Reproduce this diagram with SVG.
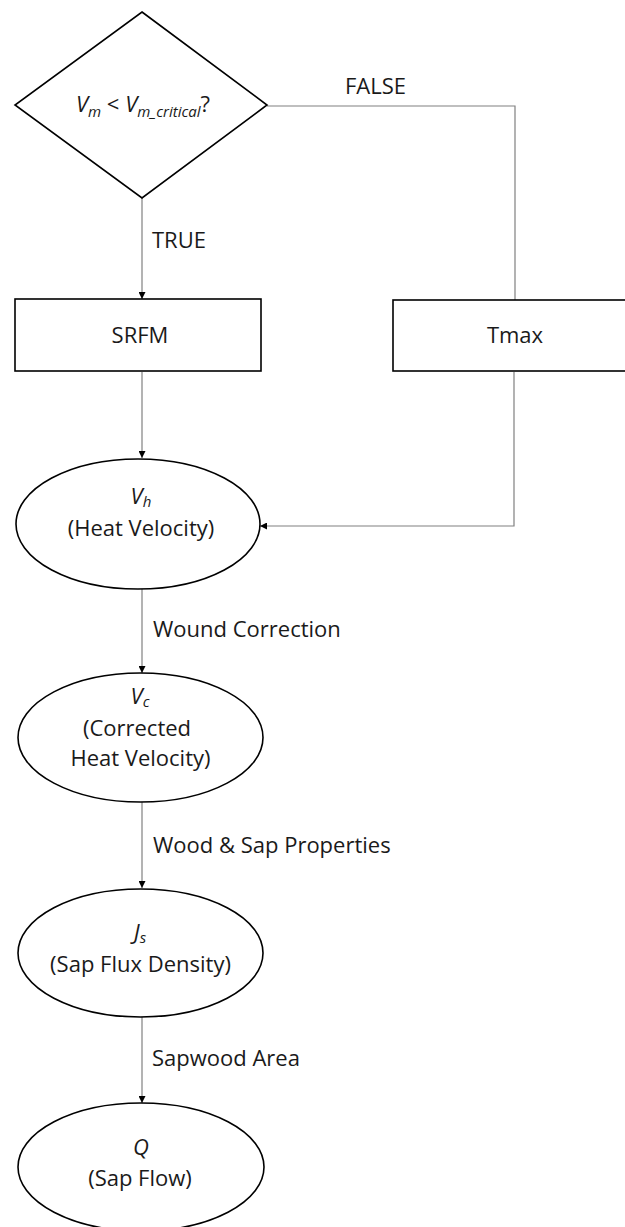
<svg xmlns="http://www.w3.org/2000/svg" width="625" height="1227" viewBox="0 0 625 1227">
<style>
  .shape { fill: #fff; stroke: #000; stroke-width: 1.6; }
  .conn { fill: none; stroke: #808080; stroke-width: 1.2; }
  text { font-family: "Open Sans", "Liberation Sans", sans-serif; font-size: 22px; fill: #1a1a1a; }
  .c { text-anchor: middle; }
  .i { font-style: italic; }
  .sub { font-size: 15px; font-style: italic; }
</style>
<defs>
  <marker id="arr" viewBox="0 0 10 10" refX="10" refY="5" markerWidth="7" markerHeight="7" markerUnits="userSpaceOnUse" orient="auto">
    <path d="M0,0 L10,5 L0,10 Z" fill="#000"/>
  </marker>
</defs>
<rect width="625" height="1227" fill="#fff"/>

<g id="connectors">
  <line class="conn" x1="142" y1="198" x2="142" y2="299" marker-end="url(#arr)"/>
  <polyline class="conn" points="267,106 515,106 515,300"/>
  <line class="conn" x1="142" y1="372" x2="142" y2="458" marker-end="url(#arr)"/>
  <polyline class="conn" points="514,372 514,526 260,526" marker-end="url(#arr)"/>
  <line class="conn" x1="142" y1="589" x2="142" y2="673" marker-end="url(#arr)"/>
  <line class="conn" x1="142" y1="802" x2="142" y2="888" marker-end="url(#arr)"/>
  <line class="conn" x1="142" y1="1017" x2="142" y2="1103" marker-end="url(#arr)"/>
  <text x="345" y="94">FALSE</text>
  <text x="152" y="248">TRUE</text>
  <text x="153" y="637">Wound Correction</text>
  <text x="153" y="853">Wood &amp; Sap Properties</text>
  <text x="152" y="1066">Sapwood Area</text>
</g>

<g id="decision">
  <polygon class="shape" points="142,12 267,105 142,198 15,105"/>
  <text class="c" x="143" y="112"><tspan class="i">V</tspan><tspan class="sub" dy="5">m</tspan><tspan dy="-5"> &lt; </tspan><tspan class="i">V</tspan><tspan class="sub" dy="5">m_critical</tspan><tspan dy="-5">?</tspan></text>
</g>

<g id="srfm">
  <rect class="shape" x="15" y="299" width="246" height="72"/>
  <text class="c" x="140" y="343">SRFM</text>
</g>

<g id="tmax">
  <rect class="shape" x="393" y="300" width="246" height="71"/>
  <text class="c" x="515" y="343">Tmax</text>
</g>

<g id="vh">
  <ellipse class="shape" cx="138" cy="524" rx="122" ry="65"/>
  <text class="c" x="141" y="504"><tspan class="i">V</tspan><tspan class="sub" dy="3">h</tspan></text>
  <text class="c" x="141" y="536">(Heat Velocity)</text>
</g>

<g id="vc">
  <ellipse class="shape" cx="140.5" cy="737.5" rx="122.5" ry="64.5"/>
  <text class="c" x="140" y="704"><tspan class="i">V</tspan><tspan class="sub" dy="3">c</tspan></text>
  <text class="c" x="137" y="736">(Corrected</text>
  <text class="c" x="140.5" y="766">Heat Velocity)</text>
</g>

<g id="js">
  <ellipse class="shape" cx="140.5" cy="953" rx="122.5" ry="64"/>
  <text class="c" x="140" y="940"><tspan class="i">J</tspan><tspan class="sub" dy="3">s</tspan></text>
  <text class="c" x="140.5" y="972">(Sap Flux Density)</text>
</g>

<g id="q">
  <ellipse class="shape" cx="141" cy="1167" rx="123" ry="64"/>
  <text class="c i" x="141" y="1155">Q</text>
  <text class="c" x="140" y="1186">(Sap Flow)</text>
</g>
</svg>
